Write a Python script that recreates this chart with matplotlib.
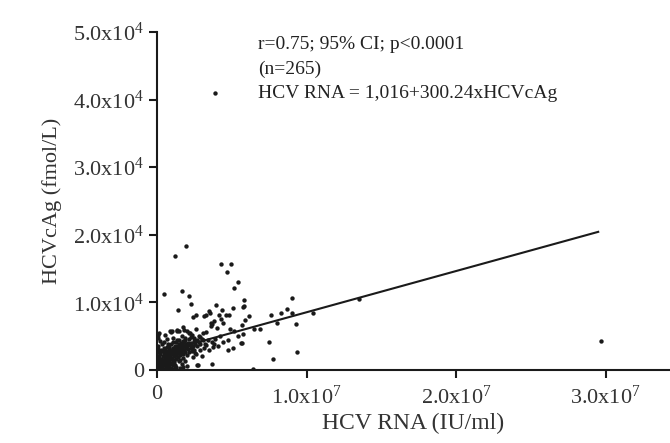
import numpy as np
import matplotlib.pyplot as plt
from matplotlib.ticker import FixedLocator, FixedFormatter

plt.rcParams.update({
    'font.family': ['Liberation Serif', 'DejaVu Serif'],
    'mathtext.fontset': 'custom',
    'mathtext.rm': 'Liberation Serif',
    'mathtext.it': 'Liberation Serif:italic',
})

# Sparse / outlying points: HCV RNA (x 1e6 IU/ml), HCVcAg (x 1e3 fmol/L)
sparse_rna = [1.91, 1.20, 4.27, 4.92, 4.67, 5.39, 5.12, 0.47, 1.69, 2.11, 2.29, 5.79,
              3.92, 5.07, 5.72, 5.79, 4.79, 6.15, 5.88, 5.66, 4.86, 5.14, 5.39, 5.77,
              4.74, 5.61, 5.70, 5.06, 4.77, 6.46, 6.88, 7.59, 8.28, 8.66, 9.00, 9.00,
              8.00, 9.28, 10.4, 7.48, 7.79, 9.39, 6.41, 13.5, 29.66, 3.90]
sparse_ag = [18.4, 16.8, 15.7, 15.7, 14.5, 13.0, 12.1, 11.3, 11.7, 11.0, 9.7, 10.4,
             9.6, 9.2, 9.3, 9.4, 8.1, 8.0, 7.4, 6.7, 6.1, 5.8, 5.1, 5.3,
             4.5, 4.0, 4.0, 3.3, 2.9, 6.1, 6.0, 8.1, 8.5, 9.0, 10.7, 8.4,
             6.9, 6.8, 8.4, 4.2, 1.7, 2.6, 0.1, 10.5, 4.3, 41.0]

# Middle band points
mid_rna = [1.42, 3.45, 3.54, 4.32, 3.14, 3.25, 2.58, 2.43, 4.14, 4.60, 3.65, 3.60,
           1.76, 1.82, 1.02, 0.87, 0.09, 0.53, 1.31, 2.02, 2.20, 1.65, 1.87, 2.87,
           3.09, 3.65, 2.83, 2.65, 3.65, 1.76, 1.54, 3.05, 2.31, 2.69, 2.87, 3.20,
           3.14, 3.72, 2.54, 2.31, 2.76, 1.36, 1.47, 2.14, 2.25, 0.91, 0.13,
           2.70, 2.90, 3.00, 3.30, 3.40, 3.50, 3.80, 3.90, 4.10, 4.20, 4.40, 3.00,
           2.80, 3.30, 4.00, 4.40, 3.80, 4.30, 3.60, 2.60]
mid_ag = [8.9, 8.8, 8.4, 8.9, 8.0, 8.1, 8.1, 7.9, 8.1, 8.1, 6.8, 6.5,
          6.4, 5.9, 5.7, 5.7, 5.2, 5.2, 5.8, 5.7, 5.4, 5.0, 4.8, 4.9,
          4.5, 4.2, 4.2, 0.7, 0.9, 0.5, 0.3, 5.4, 5.2, 4.4, 3.9, 3.9,
          3.2, 3.4, 2.5, 3.2, 0.8, 5.9, 5.7, 5.4, 4.9, 5.6, 5.4,
          3.5, 2.9, 4.6, 3.7, 4.4, 2.9, 3.9, 4.6, 3.5, 5.0, 4.1, 2.1,
          5.1, 5.6, 6.2, 6.9, 7.3, 7.6, 7.0, 6.1]

# Dense cluster near the origin
dense_rna = [0.02, 0.03, 0.05, 0.04, 0.06, 0.08, 0.05, 0.10, 0.07, 0.12, 0.15, 0.18,
             0.20, 0.14, 0.22, 0.25, 0.28, 0.30, 0.26, 0.20, 0.10,
             0.32, 0.35, 0.38, 0.40, 0.42, 0.45, 0.36, 0.48, 0.50, 0.52, 0.55, 0.58,
             0.60, 0.44, 0.56, 0.33, 0.50, 0.60, 0.40, 0.55,
             0.62, 0.65, 0.68, 0.70, 0.72, 0.75, 0.78, 0.80, 0.82, 0.85, 0.88, 0.66,
             0.74, 0.90, 0.86, 0.70, 0.80, 0.64, 0.76, 0.90,
             0.92, 0.95, 0.98, 1.00, 1.02, 1.05, 1.08, 1.10, 1.12, 1.15, 1.18, 1.20,
             0.96, 1.06, 1.14, 1.00, 1.20, 0.94, 1.10, 1.18,
             1.22, 1.25, 1.28, 1.30, 1.32, 1.35, 1.38, 1.40, 1.42, 1.45, 1.48, 1.26,
             1.34, 1.44, 1.50, 1.30, 1.46,
             1.52, 1.55, 1.58, 1.60, 1.62, 1.65, 1.68, 1.70, 1.72, 1.75, 1.78, 1.80,
             1.56, 1.66, 1.74,
             1.82, 1.85, 1.88, 1.90, 1.92, 1.95, 1.98, 2.00, 2.05, 2.10, 2.15, 2.20,
             1.86, 2.02, 2.12,
             2.25, 2.30, 2.35, 2.40, 2.45, 2.50, 2.55, 2.60, 2.42, 2.48]
dense_ag = [0.1, 0.4, 0.8, 1.2, 1.6, 2.1, 2.6, 3.1, 3.5, 0.2, 0.6, 1.0,
            1.4, 1.9, 2.3, 0.3, 0.9, 1.7, 2.9, 4.3, 4.8,
            0.1, 0.5, 1.1, 1.5, 2.0, 2.5, 2.8, 0.8, 1.3, 1.8, 2.2, 0.4,
            1.0, 3.3, 3.0, 3.8, 4.2, 2.7, 0.2, 1.6,
            0.2, 0.7, 1.2, 1.7, 2.1, 2.6, 3.0, 0.5, 1.4, 1.9, 2.4, 3.4,
            3.8, 2.9, 0.9, 4.6, 3.4, 2.3, 1.0, 1.6,
            0.3, 1.1, 1.8, 2.3, 2.8, 3.2, 0.7, 1.5, 2.0, 2.6, 3.0, 3.6,
            3.9, 4.2, 1.2, 0.1, 2.2, 2.6, 4.8, 0.3,
            0.8, 1.6, 2.2, 2.7, 3.1, 3.5, 1.9, 2.5, 3.0, 3.4, 3.9, 4.1,
            4.5, 1.3, 2.8, 0.4, 4.4,
            2.2, 3.1, 3.6, 2.6, 4.0, 3.3, 2.9, 3.8, 4.3, 2.4, 3.5, 4.1,
            1.5, 0.9, 1.8,
            3.0, 3.6, 4.4, 2.7, 3.3, 3.9, 2.2, 3.5, 4.0, 3.1, 2.6, 3.7,
            1.3, 0.6, 4.6,
            3.3, 4.0, 2.8, 3.6, 4.3, 3.0, 3.8, 2.3, 1.9, 4.8]

# Regression line
fit_intercept = 2440.0      # fmol/L
fit_slope = 6.1e-4          # fmol/L per IU/ml
fit_range = [0.2e6, 29.5e6]

x_ticks = [0, 1e7, 2e7, 3e7]
x_tick_labels = ['0', '1.0x10$^{7}$', '2.0x10$^{7}$', '3.0x10$^{7}$']
y_ticks = [0, 1e4, 2e4, 3e4, 4e4, 5e4]
y_tick_labels = ['0', '1.0x10$^{4}$', '2.0x10$^{4}$', '3.0x10$^{4}$',
                 '4.0x10$^{4}$', '5.0x10$^{4}$']

rna = np.array(sparse_rna + mid_rna + dense_rna) * 1e6
ag = np.array(sparse_ag + mid_ag + dense_ag) * 1e3

fig = plt.figure(figsize=(6.7, 4.43), dpi=100)
ax = fig.add_axes([0.2343, 0.1648, 0.7657, 0.763])

ax.scatter(rna, ag, s=10, color='#1a1a1a', linewidths=0, zorder=3)

line_x = np.array(fit_range)
ax.plot(line_x, fit_intercept + fit_slope * line_x, color='#1a1a1a', lw=1.5, zorder=2)

ax.set_xlim(0, 3.43e7)
ax.set_ylim(0, 5e4)
ax.xaxis.set_major_locator(FixedLocator(x_ticks))
ax.xaxis.set_major_formatter(FixedFormatter(x_tick_labels))
ax.yaxis.set_major_locator(FixedLocator(y_ticks))
ax.yaxis.set_major_formatter(FixedFormatter(y_tick_labels))

for side in ['top', 'right']:
    ax.spines[side].set_visible(False)
for side in ['left', 'bottom']:
    ax.spines[side].set_linewidth(1.5)
    ax.spines[side].set_color('#1a1a1a')
ax.tick_params(direction='out', length=6, width=1.5, colors='#1a1a1a',
               labelsize=16, labelcolor='#333333')
ax.tick_params(axis='x', pad=5)

ax.set_xlabel('HCV RNA (IU/ml)', fontsize=17, color='#333333', labelpad=3)
ax.set_ylabel('HCVcAg (fmol/L)', fontsize=16, color='#333333', labelpad=8)

stats_lines = ['r=0.75; 95% CI; p<0.0001', '(n=265)', 'HCV RNA = 1,016+300.24xHCVcAg']
for i, line in enumerate(stats_lines):
    ax.text(0.197, 0.962 - i * 0.0725, line, transform=ax.transAxes,
            fontsize=14, color='#222222', va='center', ha='left')

fig.savefig('out.png', dpi=100)
